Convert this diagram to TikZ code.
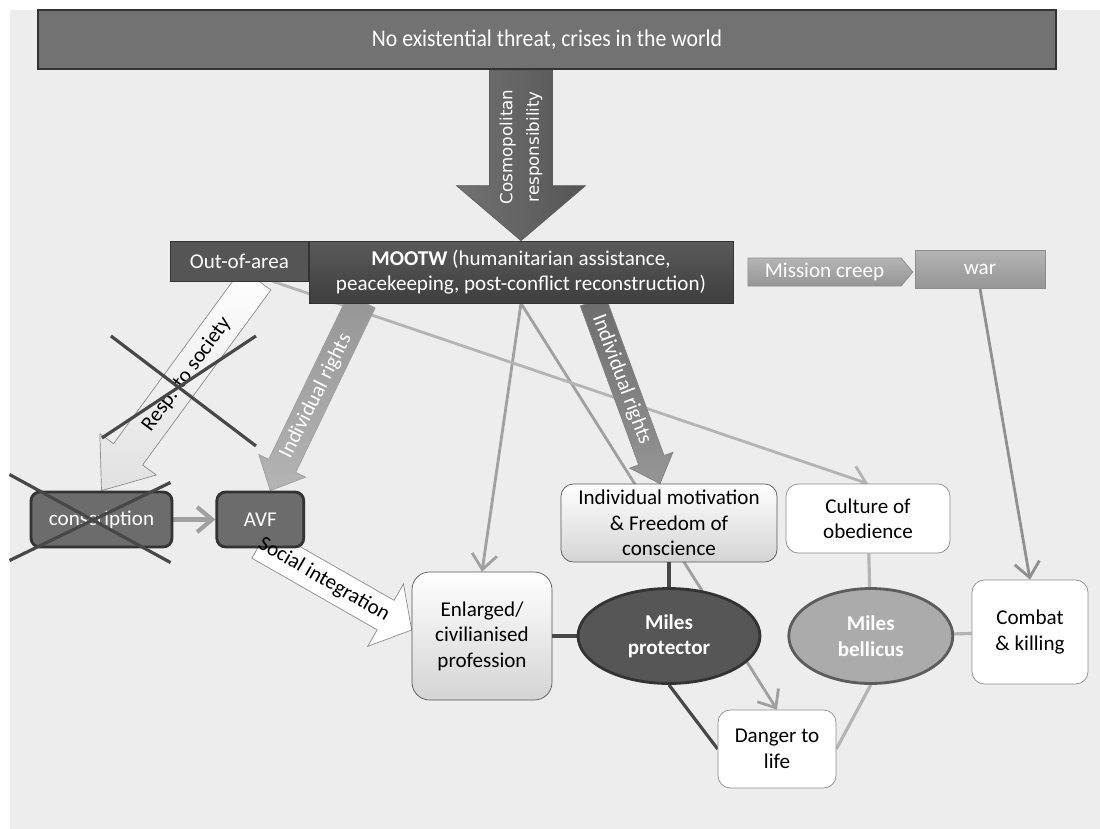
\documentclass[tikz,border=0pt]{standalone}
\usepackage{fontspec}
\setmainfont{Carlito}
\newfontfamily\widefont{DejaVu Sans}
\usetikzlibrary{shapes,shapes.symbols,arrows.meta,positioning,calc,backgrounds}

\definecolor{bggray}{HTML}{EDEDED}
\definecolor{edgedark}{HTML}{333333}
\definecolor{boxdark}{HTML}{727272}
\definecolor{mootwtop}{HTML}{5A5A5A}
\definecolor{mootwbot}{HTML}{3E3E3E}
\definecolor{boxout}{HTML}{555555}
\definecolor{boxmid}{HTML}{6C6C6C}
\definecolor{boxlight}{HTML}{D4D4D4}
\definecolor{edgemid}{HTML}{555555}
\definecolor{edgelight}{HTML}{8C8C8C}
\definecolor{greytop}{HTML}{B4B4B4}
\definecolor{greybot}{HTML}{969696}
\definecolor{protfill}{HTML}{565656}
\definecolor{bellfill}{HTML}{ABABAB}
\definecolor{linedark}{HTML}{474747}
\definecolor{linemid}{HTML}{A0A0A0}
\definecolor{linelight}{HTML}{B4B4B4}

\begin{document}
\begin{tikzpicture}[x=0.02cm, y=-0.02cm, font=\fontsize{12}{14.5}\selectfont, >={Straight Barb[length=3mm,width=5mm]}]
    % Styles
    \tikzstyle{topbox} = [rectangle, draw=edgedark, line width=1.2pt, fill=boxdark, text=white]
    \tikzstyle{mootwbox} = [rectangle, draw=edgedark, top color=mootwtop, bottom color=mootwbot, text=white, align=center]
    \tikzstyle{crossedbox} = [rectangle, rounded corners=5pt, draw=edgedark, line width=1.6pt, fill=boxmid, text=white]
    \tikzstyle{lightbox} = [rectangle, rounded corners=7pt, draw=edgemid, top color=white, bottom color=boxlight, align=center]
    \tikzstyle{whitebox} = [rectangle, rounded corners=7pt, draw=edgelight, fill=white, align=center]
    \tikzstyle{greybox} = [draw=edgelight, top color=greytop, bottom color=greybot, text=white]
    \tikzstyle{miles} = [ellipse, line width=1.6pt, align=center, text=white, font=\fontsize{12}{14.5}\selectfont\bfseries]
    \tikzstyle{thinarrow} = [->, line width=1.6pt, draw=linemid]
    \tikzstyle{darkline} = [line width=1.8pt, draw=linedark]
    \tikzstyle{lightline} = [line width=1.8pt, draw=linelight]
    \tikzstyle{strike} = [line width=1.8pt, draw=linedark]
    \tikzstyle{arrowtext} = [inner sep=0pt]
    \tikzset{bigarrow/.style n args={3}{to path={
        ($(\tikztostart)!#1!90:(\tikztotarget)$)
        -- ($(\tikztotarget)!#3!(\tikztostart)!#1!-90:(\tikztostart)$)
        -- ($(\tikztotarget)!#3!(\tikztostart)!#2!-90:(\tikztostart)$)
        -- (\tikztotarget)
        -- ($(\tikztotarget)!#3!(\tikztostart)!#2!90:(\tikztostart)$)
        -- ($(\tikztotarget)!#3!(\tikztostart)!#1!90:(\tikztostart)$)
        -- ($(\tikztostart)!#1!-90:(\tikztotarget)$) -- cycle}}}

    \useasboundingbox (0,0) rectangle (1100,829);

    % Top of the chain
    \node[topbox, minimum width=20.36cm, minimum height=1.18cm] (threat) at (547,39.5) {\fontsize{13}{15}\selectfont\scalebox{0.95}[1.05]{No existential threat, crises in the world}};
    \node[mootwbox, minimum width=8.48cm, minimum height=1.24cm] (mootw) at (521,272) {\textbf{MOOTW} (humanitarian assistance,\\peacekeeping, post-conflict reconstruction)};
    \node[rectangle, draw=edgedark, fill=boxout, text=white, minimum width=2.76cm, minimum height=0.8cm, anchor=north east] (outarea) at (mootw.north west) {Out-of-area};
    \node[greybox, signal, signal to=east, signal pointer angle=100, minimum width=3.3cm, minimum height=0.56cm, inner sep=1pt] (creep) at (824.5,272) {Mission creep};
    \node[greybox, rectangle, minimum width=2.6cm, minimum height=0.76cm] (war) at (980,269) {war};

    % Armed forces
    \node[crossedbox, minimum width=2.82cm, minimum height=1.1cm] (consc) at (101.5,519.5) {conscription};
    \node[crossedbox, right=0.84cm of consc, minimum width=1.74cm, minimum height=1.1cm] (avf) {AVF};
    \node[lightbox, rounded corners=10pt, minimum width=2.8cm, minimum height=2.56cm] (enlarged) at (482,636) {Enlarged/\\civilianised\\profession};

    % Soldier types
    \node[miles, fill=protfill, draw=edgedark, minimum width=3.64cm, minimum height=1.9cm] (protector) at (669,636) {Miles\\protector};
    \node[miles, fill=bellfill, draw=edgedark!80, right=0.52cm of protector, minimum width=3.28cm, minimum height=1.9cm] (bellicus) {Miles\\bellicus};
    \node[lightbox, minimum width=4.32cm, minimum height=1.56cm] (motiv) at (669,523) {Individual motivation\\\& Freedom of\\conscience};
    \node[whitebox, minimum width=3.28cm, minimum height=1.38cm] (culture) at (868,518.5) {Culture of\\obedience};
    \node[whitebox, minimum width=2.32cm, minimum height=2.08cm] (combat) at (1030,632) {Combat\\\& killing};
    \node[whitebox, minimum width=2.36cm, minimum height=1.56cm] (danger) at (777,749) {Danger to\\life};

    % Ends of the block arrows
    \coordinate (cosmoA) at (mootw.north |- threat.south);
    \coordinate (cosmoB) at (mootw.north);
    \coordinate (respA) at ($(outarea.south)+(17,-2)$);
    \coordinate (respB) at (consc.north);
    \coordinate (ind1A) at ($(mootw.south west)+(53,-2)$);
    \coordinate (ind1B) at ($(avf.north)+(10,0)$);
    \coordinate (ind2A) at ($(mootw.south)+(72,-2)$);
    \coordinate (ind2B) at ($(motiv.north)+(-9,0)$);
    \coordinate (socA) at ($(avf.south)+(0,-5)$);
    \coordinate (socB) at ($(enlarged.west)+(0,-6)$);
    \coordinate (oaA) at ($(outarea.south east)+(-36,0)$);
    \coordinate (respmid) at ($(respA)!.5!(respB)$);

    \begin{pgfonlayer}{background}
    \fill[white] (0,0) rectangle (1100,829);
    \fill[bggray] (10,10) rectangle (1100,829);

    % Connections
    \draw[thinarrow, line width=2.4pt] (consc) -- (avf);
    \draw[thinarrow] (mootw.south) -- (enlarged.north);
    \draw[thinarrow] (mootw.south) -- (danger.north);
    \draw[thinarrow, draw=linelight] (oaA) -- (culture.north);
    \draw[thinarrow, draw=linemid!90!black] (war.south) -- (combat.north);
    \draw[darkline] (enlarged) -- (protector);
    \draw[darkline] (motiv) -- (protector);
    \draw[darkline] (protector.south) -- (danger.west);
    \draw[lightline] (culture) -- (bellicus);
    \draw[lightline] (bellicus.south) -- (danger.east);
    \draw[lightline] (bellicus) -- (combat);

    % Block arrows
    \draw[bigarrow={0.63cm}{1.29cm}{1.1cm}, draw=edgedark!80, left color=boxdark, right color=boxout] (cosmoA) to (cosmoB);
    \draw[bigarrow={0.36cm}{0.7cm}{0.9cm}, draw=edgelight, top color=white, bottom color=boxlight!70] (respA) to (respB);
    \draw[bigarrow={0.3cm}{0.52cm}{0.55cm}, draw=linemid, top color=greybot, bottom color=greytop] (ind1A) to (ind1B);
    \draw[bigarrow={0.27cm}{0.46cm}{0.5cm}, draw=linemid!80!black, top color=boxmid, bottom color=greybot] (ind2A) to (ind2B);
    \draw[bigarrow={0.34cm}{0.72cm}{0.6cm}, draw=edgelight, fill=white] (socA) to (socB);
    \end{pgfonlayer}

    % Arrow labels
    \node[arrowtext, rotate=90, text=white, font=\widefont\fontsize{9.5}{15}\selectfont, align=center] (cosmotxt) at ($(cosmoA)!.45!(cosmoB)$) {Cosmopolitan\\responsibility};
    \node[arrowtext, rotate=53.6] (resptxt) at ($(respA)!.45!(respB)$) {Resp. to society};
    \node[arrowtext, rotate=63.3, text=white] (ind1txt) at ($(ind1A)!.5!(ind1B)$) {Individual rights};
    \node[arrowtext, rotate=-69.5, text=white] (ind2txt) at ($(ind2A)!.43!(ind2B)$) {Individual rights};
    \node[arrowtext, rotate=-30] (soctxt) at ($(socA)!.42!(socB)$) {Social integration};

    % Crossed out
    \draw[strike] ($(consc)+(-92,-45)$) -- ($(consc)+(69,43)$);
    \draw[strike] ($(consc)+(-92,41)$) -- ($(consc)+(69,-37)$);
    \draw[strike] ($(respmid)+(-68,-49)$) -- ($(respmid)+(77,61)$);
    \draw[strike] ($(respmid)+(-77,53)$) -- ($(respmid)+(77,-49)$);
\end{tikzpicture}
\end{document}
